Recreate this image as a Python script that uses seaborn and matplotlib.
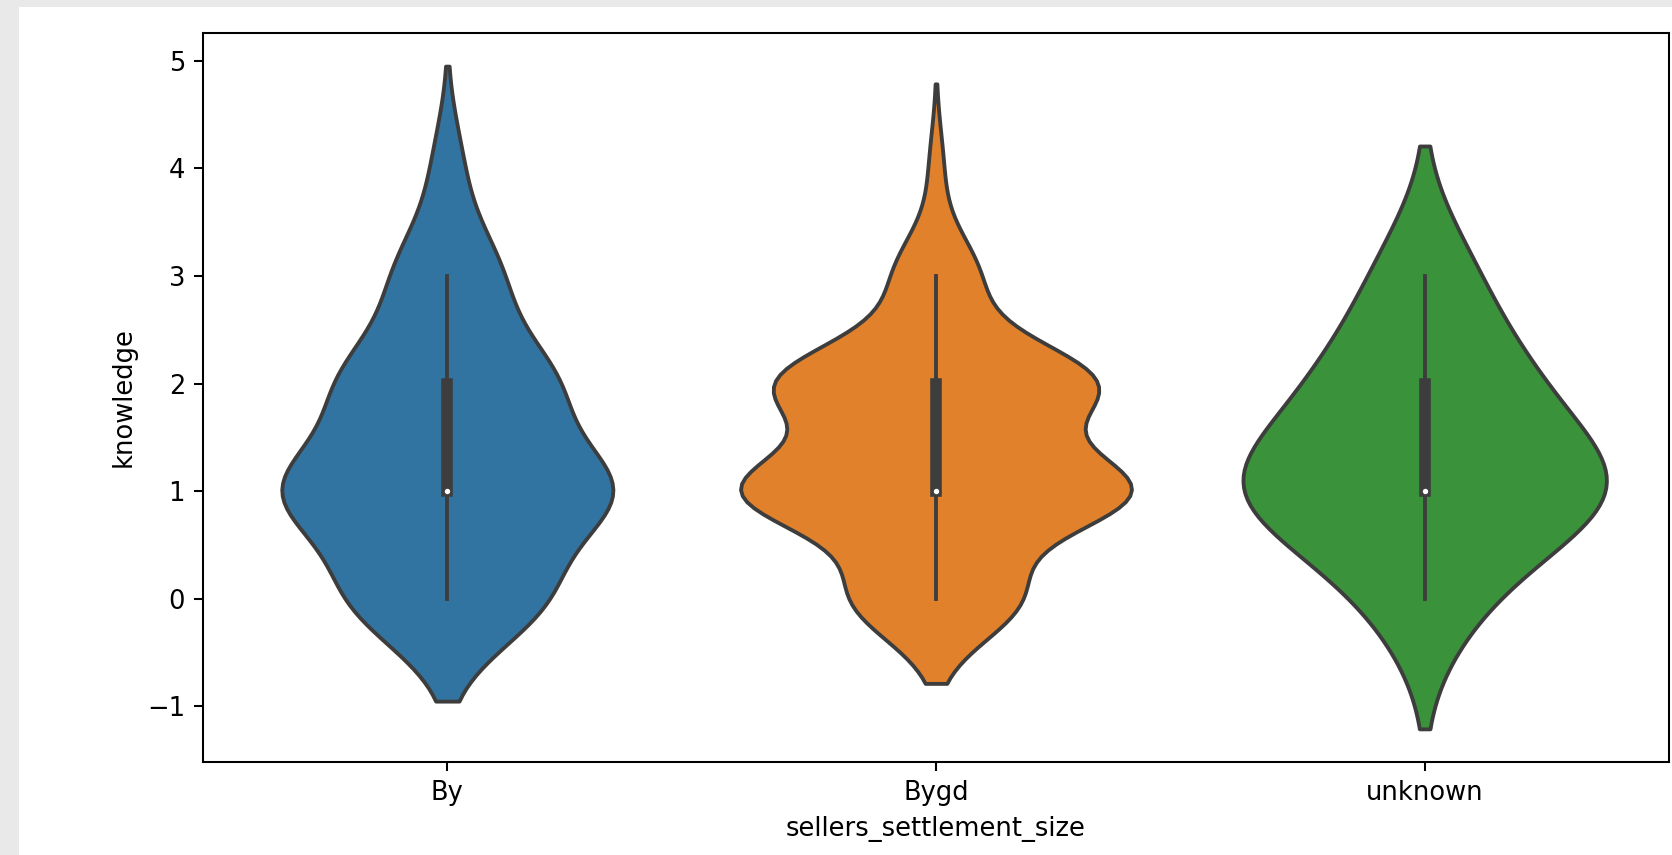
import numpy as np
import pandas as pd
import matplotlib
matplotlib.use("Agg")
import matplotlib.pyplot as plt
import seaborn as sns

# knowledge scores per settlement size (counts of each score value)
categories = ["By", "Bygd", "unknown"]
by_scores = [0, 1, 2, 3, 4]
by_counts = [13, 22, 14, 7, 2]
bygd_scores = [0, 1, 2, 3, 4]
bygd_counts = [12, 28, 23, 6, 1]
unknown_scores = [0, 1, 2, 3]
unknown_counts = [1, 4, 2, 1]

df = pd.concat([
    pd.DataFrame({"sellers_settlement_size": "By",
                  "knowledge": np.repeat(by_scores, by_counts)}),
    pd.DataFrame({"sellers_settlement_size": "Bygd",
                  "knowledge": np.repeat(bygd_scores, bygd_counts)}),
    pd.DataFrame({"sellers_settlement_size": "unknown",
                  "knowledge": np.repeat(unknown_scores, unknown_counts)}),
], ignore_index=True)

dpi = 185
fig = plt.figure(figsize=(1672 / dpi, 855 / dpi), dpi=dpi, facecolor="#e9e9e9")
# white notebook output area
fig.patches.append(plt.Rectangle((19 / 1672, 0), 1, 1 - 7 / 855,
                                 transform=fig.transFigure, facecolor="white",
                                 edgecolor="none", zorder=-10))

ax = fig.add_axes([203 / 1672, 1 - 762 / 855, (1669 - 203) / 1672, (762 - 33) / 855])
sns.violinplot(data=df, x="sellers_settlement_size", y="knowledge",
               hue="sellers_settlement_size", order=categories,
               hue_order=categories, legend=False, linewidth=1.5,
               common_norm=True,
               inner_kws=dict(box_width=4.5, whis_width=1.5), ax=ax)

# median as a small white dot with grey edge
for line in ax.lines:
    if line.get_marker() not in (None, "None", "", " "):
        line.set_marker("o")
        line.set_markersize(3)
        line.set_markeredgewidth(0.9)
        line.set_markerfacecolor("white")
        line.set_markeredgecolor("#3f3f3f")

fig.savefig("out.png", dpi=dpi, facecolor=fig.get_facecolor())
